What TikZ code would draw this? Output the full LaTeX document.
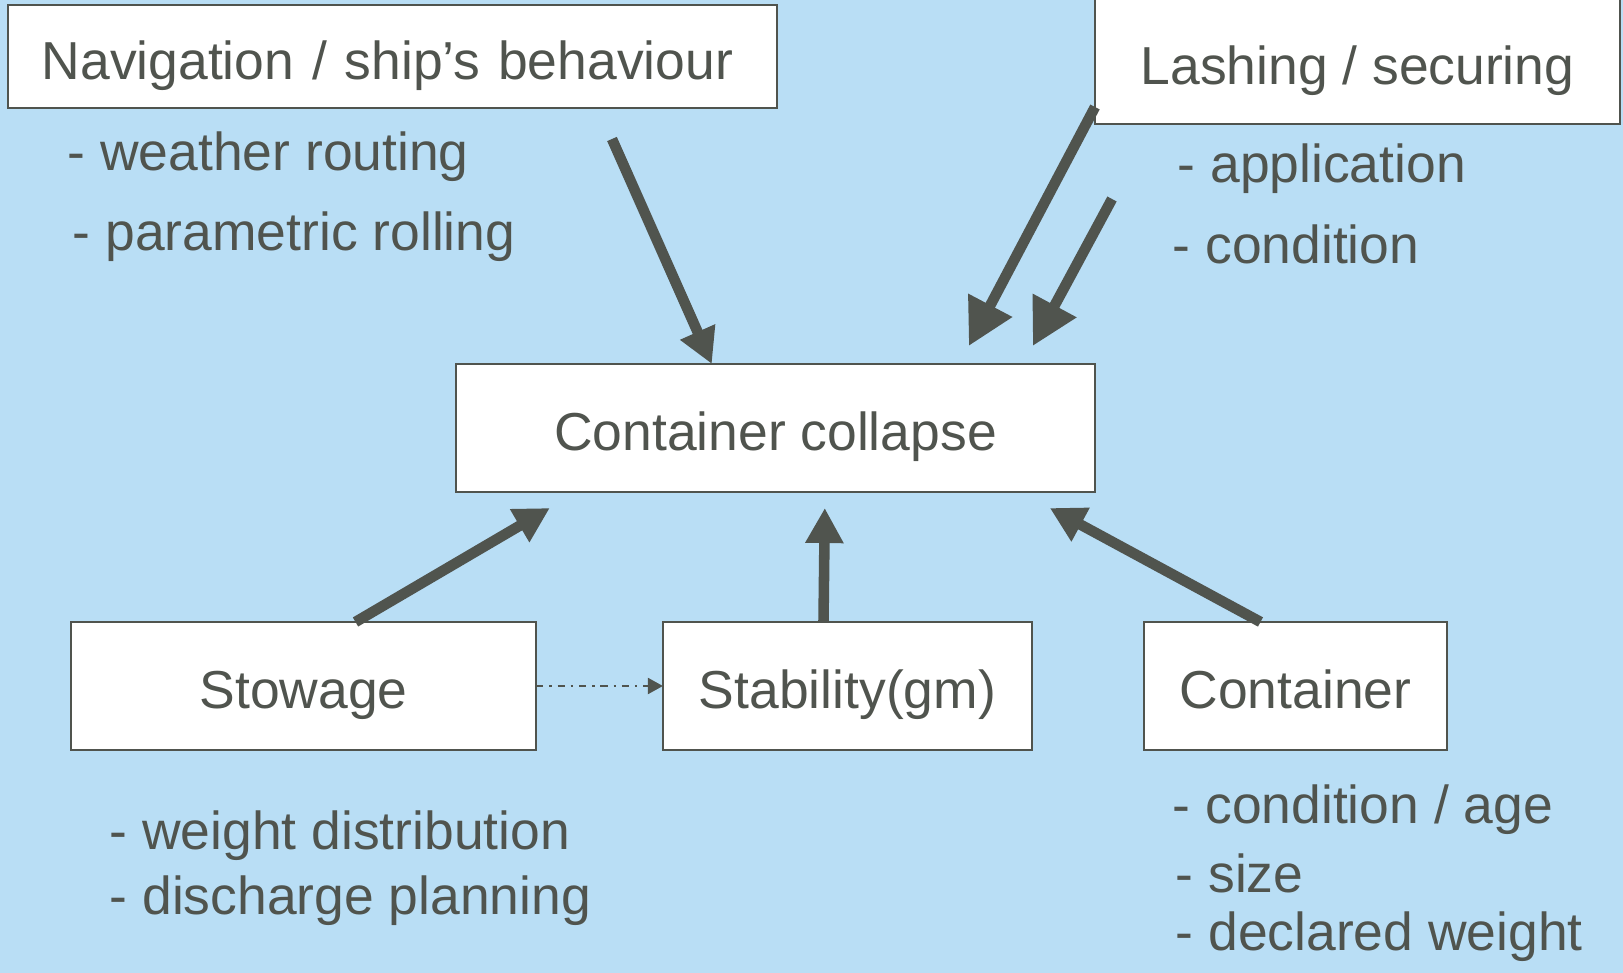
\documentclass[tikz,border=0pt]{standalone}
\usepackage{fontspec}
\setmainfont{Liberation Sans}
\usepackage{tikz}
\tikzset{>=latex}
\usetikzlibrary{calc}
\usetikzlibrary{arrows.meta}
\definecolor{skyblue}{HTML}{B9DEF5}
\definecolor{slate}{HTML}{50544E}
\tikzset{
	box/.style={draw=slate,line width=0.6pt,fill=white,text=slate,inner sep=0pt,outer sep=0pt,
		text height=15pt,text depth=2.2pt,font=\fontsize{15.2}{18}\selectfont},
	item/.style={anchor=base west,text=slate,inner sep=0pt,font=\fontsize{15.2}{18}\selectfont},
	bigarrow/.style={draw=slate,line width=3pt,-{Triangle[length=0.35cm,width=0.36cm]}},
	widearrow/.style={draw=slate,line width=3pt,-{Triangle[length=0.46cm,width=0.47cm]}},
	thinarrow/.style={draw=slate,line width=0.6pt,dash pattern=on 2pt off 1.7pt on 0.7pt off 1.7pt,
		-{Triangle[length=0.15cm,width=0.16cm]}}
}

\begin{document}
\begin{tikzpicture}[x=0.01cm,y=-0.01cm]
		\useasboundingbox (0,0) rectangle (1623,973);
		\fill[skyblue] (0,0) rectangle (1623,973);

		% boxes
		\node[box,minimum width=7.69cm,minimum height=1.03cm,text width=7.01cm,inner xsep=0.34cm,align=left] (nav) at (392.5,56.5) {Navigation / ship’s behaviour};
		\node[box,minimum width=5.25cm,minimum height=1.25cm] (lash) at (1357.5,61.5) {Lashing / securing};
		\node[box,minimum width=6.39cm,minimum height=1.28cm] (collapse) at (775.5,428) {Container collapse};
		\node[box,minimum width=4.65cm,minimum height=1.28cm] (stowage) at (303.5,686) {Stowage};
		\node[box,minimum width=3.69cm,minimum height=1.28cm] (stability) at (847.5,686) {Stability(gm)};
		\node[box,minimum width=3.03cm,minimum height=1.28cm] (container) at (1295.5,686) {Container};

		% lists
		\node[item] (nav1) at (67,171) {- weather routing};
		\node[item] (nav2) at (72,251) {- parametric rolling};
		\node[item] (lash1) at (1177,183) {- application};
		\node[item] (lash2) at (1172,264) {- condition};
		\node[item] (sto1) at (109,849) {- weight distribution};
		\node[item] (sto2) at (109,914) {- discharge planning};
		\node[item] (con1) at (1172,823) {- condition / age};
		\node[item] (con2) at (1175,892) {- size};
		\node[item] (con3) at (1175,950) {- declared weight};

		% free ends
		\coordinate (navstart) at (612,139);
		\coordinate (lashstartA) at (1095,107);
		\coordinate (lashstartB) at (1112,199);
		\coordinate (lashtipA) at ($(collapse.north west)+(513,-18)$);
		\coordinate (lashtipB) at ($(collapse.north west)+(577,-18)$);
		\coordinate (stotip) at ($(collapse.south west)+(94,16)$);
		\coordinate (stabtip) at ($(collapse.south west)+(369,16)$);
		\coordinate (contip) at ($(collapse.south west)+(594,16)$);

		% arrows
		\draw[bigarrow] (navstart) -- ($(collapse.north west)+(256,0)$);
		\draw[widearrow] (lashstartA) -- (lashtipA);
		\draw[widearrow] (lashstartB) -- (lashtipB);
		\draw[bigarrow] ($(stowage.north)+(52,0)$) -- (stotip);
		\draw[bigarrow] ($(stability.north)+(-24,0)$) -- (stabtip);
		\draw[bigarrow] ($(container.north)+(-35,0)$) -- (contip);
		\draw[thinarrow] (stowage.east) -- (stability.west);
	\end{tikzpicture}
\end{document}
